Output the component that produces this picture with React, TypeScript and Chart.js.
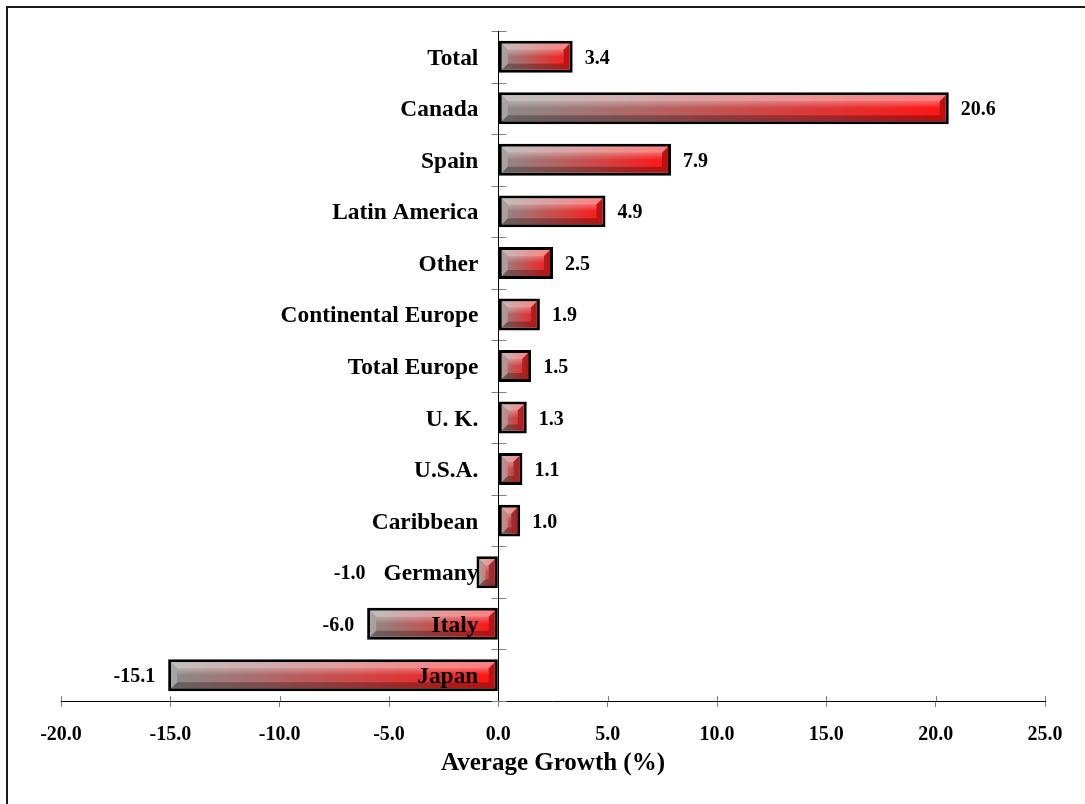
import React, { useEffect, useRef } from 'react';
import { Chart, registerables } from 'chart.js';

Chart.register(...registerables);

const categories = [
  'Total',
  'Canada',
  'Spain',
  'Latin America',
  'Other',
  'Continental Europe',
  'Total Europe',
  'U. K.',
  'U.S.A.',
  'Caribbean',
  'Germany',
  'Italy',
  'Japan',
];
const growth = [3.4, 20.6, 7.9, 4.9, 2.5, 1.9, 1.5, 1.3, 1.1, 1.0, -1.0, -6.0, -15.1];
const xMin = -20;
const xMax = 25;
const xStep = 5;
const axisTitle = 'Average Growth (%)';

const SERIF = "'Liberation Serif', 'Times New Roman', Times, serif";

const centerAxisPlugin = {
  id: 'centerAxis',
  beforeDatasetsDraw(chart: any) {
    const { ctx, chartArea, scales } = chart;
    const x = scales.x;
    const y = scales.y;
    const x0 = Math.round(x.getPixelForValue(0)) + 0.5;
    ctx.save();
    ctx.lineWidth = 1;
    ctx.strokeStyle = '#808080';
    x.ticks.forEach((_t: any, i: number) => {
      const px = Math.round(x.getPixelForTick(i)) + 0.5;
      ctx.beginPath();
      ctx.moveTo(px, chartArea.bottom - 5);
      ctx.lineTo(px, chartArea.bottom);
      ctx.stroke();
    });
    for (let i = 0; i <= categories.length; i++) {
      const py = Math.round(y.getPixelForValue(i - 0.5)) + 0.5;
      ctx.beginPath();
      ctx.moveTo(x0 - 7, py);
      ctx.lineTo(x0 + 8, py);
      ctx.stroke();
    }
    ctx.strokeStyle = '#000';
    ctx.beginPath();
    ctx.moveTo(x0, chartArea.top);
    ctx.lineTo(x0, chartArea.bottom);
    ctx.stroke();
    ctx.restore();
  },
  afterDatasetsDraw(chart: any) {
    const { ctx, scales } = chart;
    const x = scales.x;
    const x0 = x.getPixelForValue(0);
    const meta = chart.getDatasetMeta(0);
    ctx.save();
    meta.data.forEach((bar: any, i: number) => {
      const p = bar.getProps(['x', 'y', 'base', 'height'], true);
      const left = Math.min(p.x, p.base);
      const right = Math.max(p.x, p.base);
      const top = p.y - p.height / 2;
      const bottom = p.y + p.height / 2;
      const bw = 3;
      const l = left + bw;
      const r = right - bw;
      const t = top + bw;
      const b = bottom - bw;
      if (r - l > 2) {
        const s = Math.min(6, (r - l) / 2.5, (b - t) / 3);
        const poly = (pts: number[][], fill: any) => {
          ctx.beginPath();
          ctx.moveTo(pts[0][0], pts[0][1]);
          for (let k = 1; k < pts.length; k++) ctx.lineTo(pts[k][0], pts[k][1]);
          ctx.closePath();
          ctx.fillStyle = fill;
          ctx.fill();
        };
        const g = ctx.createLinearGradient(0, t + s, 0, (t + b) / 2);
        g.addColorStop(0, 'rgba(255,255,255,0.32)');
        g.addColorStop(1, 'rgba(255,255,255,0)');
        ctx.fillStyle = g;
        ctx.fillRect(l + s, t + s, r - l - 2 * s, (b - t) / 2 - s);
        poly([[l, t], [r, t], [r - s, t + s], [l + s, t + s]], 'rgba(255,255,255,0.45)');
        poly([[l, b], [r, b], [r - s, b - s], [l + s, b - s]], 'rgba(0,0,0,0.28)');
        poly([[l, t], [l + s, t + s], [l + s, b - s], [l, b]], 'rgba(255,255,255,0.22)');
        poly([[r, t], [r - s, t + s], [r - s, b - s], [r, b]], 'rgba(0,0,0,0.25)');
      }
      // category label next to the zero axis
      ctx.fillStyle = '#000';
      ctx.textBaseline = 'alphabetic';
      ctx.font = `bold 23.4px ${SERIF}`;
      ctx.textAlign = 'right';
      const labelRight = x0 - 20;
      const labelLeft = labelRight - ctx.measureText(categories[i]).width;
      ctx.fillText(categories[i], labelRight, p.y + 8);
      // value label
      const v = growth[i];
      ctx.font = `bold 20px ${SERIF}`;
      if (v >= 0) {
        ctx.textAlign = 'left';
        ctx.fillText(v.toFixed(1), right + 12, p.y + 7);
      } else {
        ctx.textAlign = 'right';
        const vx = Math.min(left - 13, labelLeft - 18);
        ctx.fillText(v.toFixed(1), vx, p.y + 7);
      }
    });
    ctx.restore();
  },
};

export default function App() {
  const canvasRef = useRef<HTMLCanvasElement | null>(null);

  useEffect(() => {
    const canvas = canvasRef.current;
    if (!canvas) return;
    const chart = new Chart(canvas, {
      type: 'bar',
      data: {
        labels: categories,
        datasets: [
          {
            label: axisTitle,
            data: growth,
            backgroundColor: (c: any) => {
              const ch = c.chart;
              const xs = ch.scales && ch.scales.x;
              const v = c.raw;
              if (!xs || typeof v !== 'number') return '#c04040';
              const p0 = xs.getPixelForValue(0);
              const p1 = xs.getPixelForValue(v);
              const l = Math.min(p0, p1);
              const r = Math.max(p0, p1);
              if (!isFinite(l) || !isFinite(r) || r - l < 1) return '#c04040';
              const g = ch.ctx.createLinearGradient(l, 0, r, 0);
              g.addColorStop(0, '#8c8c8c');
              g.addColorStop(1, '#ff1414');
              return g;
            },
            borderColor: '#000',
            borderWidth: 3,
            borderSkipped: false,
            barPercentage: 0.62,
            categoryPercentage: 1,
          },
        ],
      },
      options: {
        indexAxis: 'y',
        responsive: false,
        animation: false,
        events: [],
        layout: { padding: { left: 61, right: 40, top: 31, bottom: 0 } },
        plugins: {
          legend: { display: false },
          tooltip: { enabled: false },
          title: { display: false },
        },
        scales: {
          x: {
            type: 'linear',
            min: xMin,
            max: xMax,
            afterFit: (scale: any) => {
              scale.height = 103;
            },
            ticks: {
              stepSize: xStep,
              color: '#000',
              padding: 16,
              font: { family: SERIF, size: 20, weight: 'bold' },
              callback: (v: any) => Number(v).toFixed(1),
            },
            grid: {
              drawOnChartArea: false,
              drawTicks: true,
              tickLength: 6,
              color: '#808080',
            },
            border: { display: true, color: '#000', width: 1 },
            title: {
              display: true,
              text: axisTitle,
              color: '#000',
              font: { family: SERIF, size: 25, weight: 'bold' },
              padding: { top: 0, bottom: 25 },
            },
          },
          y: {
            type: 'category',
            display: false,
            offset: true,
          },
        },
      },
      plugins: [centerAxisPlugin],
    } as any);
    return () => chart.destroy();
  }, []);

  return (
    <div
      style={{
        position: 'fixed',
        left: 0,
        top: 0,
        width: 1085,
        height: 804,
        overflow: 'hidden',
        background: '#fff',
      }}
    >
      <canvas
        ref={canvasRef}
        width={1085}
        height={804}
        style={{ position: 'absolute', left: 0, top: 0, width: 1085, height: 804 }}
      />
      <div
        style={{
          position: 'absolute',
          left: 6,
          top: 6,
          width: 1120,
          height: 840,
          borderLeft: '2px solid #1a1a1a',
          borderTop: '2px solid #1a1a1a',
          pointerEvents: 'none',
        }}
      />
    </div>
  );
}
